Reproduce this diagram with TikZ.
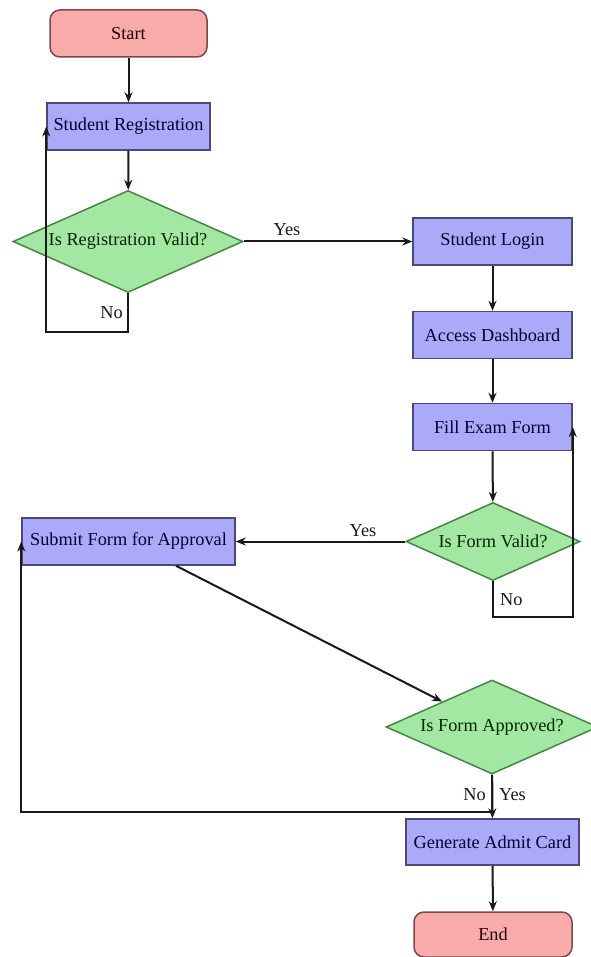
\documentclass[tikz,border=0pt]{standalone}
\usepackage{fontspec}
\setmainfont{Liberation Serif}
\usetikzlibrary{shapes.geometric,arrows.meta}
\definecolor{pinkfill}{HTML}{F9AAAA}
\definecolor{pinkdraw}{HTML}{7A4A4A}
\definecolor{bluefill}{HTML}{AAAAF8}
\definecolor{bluedraw}{HTML}{4A4A7A}
\definecolor{greenfill}{HTML}{A2E8A2}
\definecolor{greendraw}{HTML}{458545}
\begin{document}
\begin{tikzpicture}[x=1pt,y=-1pt,
  font=\fontsize{18.3}{22}\selectfont,
  base/.style={draw, line width=1.5pt, inner sep=0pt, align=center},
  term/.style={base, rectangle, rounded corners=10pt, fill=pinkfill, draw=pinkdraw, text=red!15!black},
  proc/.style={base, rectangle, fill=bluefill, draw=bluedraw, text=blue!20!black},
  dec/.style={base, diamond, aspect=2.2, fill=greenfill, draw=greendraw, text=green!15!black},
  arr/.style={-{Stealth[length=10pt,width=8pt]}, line width=2pt, black!90},
  lbl/.style={inner sep=1pt, text=black!90}]
\useasboundingbox (0,0) rectangle (590,957);
\node[term, minimum width=157pt, minimum height=47pt] (start) at (128.5,33.5) {Start};
\node[proc, minimum width=163pt, minimum height=47pt] (reg) at (128.5,126.5) {Student Registration};
\node[dec, minimum width=230pt, minimum height=102pt] (regok) at (128,241.5) {Is Registration Valid?};
\node[proc, minimum width=159pt, minimum height=47pt] (login) at (492.5,241.5) {Student Login};
\node[proc, minimum width=159pt, minimum height=47pt] (dash) at (492.5,335) {Access Dashboard};
\node[proc, minimum width=159pt, minimum height=47pt] (fill) at (492.5,427) {Fill Exam Form};
\node[dec, minimum width=174pt, minimum height=78pt] (formok) at (493,541.5) {Is Form Valid?};
\node[proc, minimum width=213pt, minimum height=47pt] (submit) at (128.5,541.5) {Submit Form for Approval};
\node[dec, minimum width=212pt, minimum height=94pt] (appr) at (492,727) {Is Form Approved?};
\node[proc, minimum width=173pt, minimum height=46pt] (admit) at (492.5,842) {Generate Admit Card};
\node[term, minimum width=158pt, minimum height=45pt] (end) at (493,934.5) {End};

\draw[arr] (start) -- (reg);
\draw[arr] (reg) -- (regok);
\coordinate (regloop) at (128,332);
\draw[arr] (regok.south) -- (regloop) -| (reg.west);
\node[lbl, anchor=east] (regno) at (124,313) {No};
\draw[arr] (regok.east) -- (login.west);
\node[lbl] (regyes) at (287,230) {Yes};
\draw[arr] (login) -- (dash);
\draw[arr] (dash) -- (fill);
\draw[arr] (fill) -- (formok);
\coordinate (formloop) at (493,617);
\draw[arr] (formok.south) -- (formloop) -| (fill.east);
\node[lbl, anchor=west] (formno) at (499,600) {No};
\draw[arr] (formok.west) -- (submit.east);
\node[lbl] (formyes) at (363,531) {Yes};
\draw[arr] (submit) -- (appr);
\draw[arr] (appr) -- (admit);
\node[lbl, anchor=west] (appryes) at (498,795) {Yes};
\node[lbl, anchor=east] (apprno) at (487,795) {No};
\coordinate (apprloop) at (492,812);
\draw[arr] (appr.south) -- (apprloop) -| (submit.west);
\draw[arr] (admit) -- (end);
\end{tikzpicture}
\end{document}
